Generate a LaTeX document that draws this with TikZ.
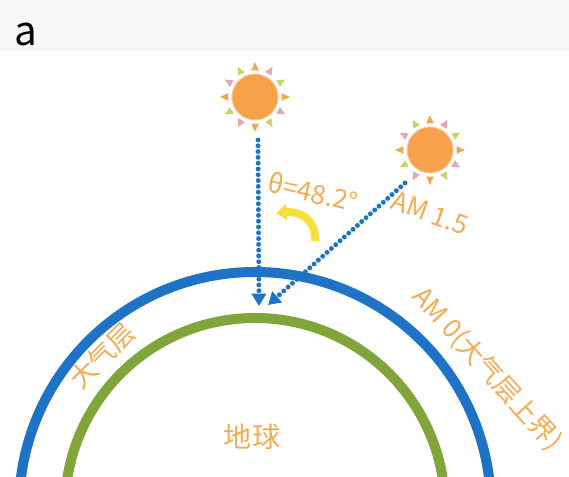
\documentclass[tikz,border=0pt]{standalone}
\usepackage{fontspec}
\usepackage{tikz}
\usetikzlibrary{arrows.meta}
\newfontfamily\cjk{Noto Sans CJK SC}

\definecolor{atmoblue}{HTML}{1E73C6}
\definecolor{earthgreen}{HTML}{7FA53B}
\definecolor{sunorange}{HTML}{F7A24A}
\definecolor{textorange}{HTML}{F3AC55}
\definecolor{hookyellow}{HTML}{F6E03C}
\definecolor{rayA}{HTML}{F2A84E}
\definecolor{rayB}{HTML}{C9D36A}
\definecolor{rayC}{HTML}{E5A7B0}

\tikzset{
	sun/.style={circle, fill=sunorange, draw=sunorange!60!white, line width=0.6pt, minimum size=0.92cm, inner sep=0pt},
	beam/.style={atmoblue, line width=2.8pt, line cap=round, dash pattern=on 0pt off 3.3pt,
		-{Triangle[length=7pt, width=8pt]}},
	amtext/.style={text=textorange, font=\cjk\fontsize{15}{17}\selectfont, inner sep=0pt},
}

\begin{document}
\begin{tikzpicture}[x=0.02cm, y=0.02cm]
	\useasboundingbox (0,0) rectangle (569,477);
	\clip (0,0) rectangle (569,477);
	\fill[gray!6] (0,426) rectangle (569,477);
	\node[font=\cjk\fontsize{23}{26}\selectfont, inner sep=0pt, anchor=base west] (panel) at (14,431) {a};

	% atmosphere and earth
	\draw[atmoblue, line width=5.7pt] (255,-31) circle [radius=236];
	\draw[earthgreen, line width=5.7pt] (255,-31) circle [radius=190];

	% the two suns
	\node[sun] (sunhigh) at (255,380) {};
	\node[sun] (sunlow) at (430,327) {};
	\foreach \s in {sunhigh,sunlow}{
		\foreach \a/\c in {0/rayA,30/rayB,60/rayC,90/rayA,120/rayB,150/rayC,
			180/rayA,210/rayB,240/rayC,270/rayA,300/rayB,330/rayC}{
			\fill[\c, shift={(\s)}] (\a-8:27) -- (\a:35) -- (\a+8:27) -- cycle;
		}
	}

	% sunlight
	\coordinate (zenith) at (258,337);
	\coordinate (slant) at (405,294);
	\coordinate (hitv) at (259,171);
	\coordinate (hitd) at (268,172);
	\draw[beam] (zenith) -- (hitv);
	\draw[beam] (slant) -- (hitd);

	\draw[hookyellow, line width=4.5pt, -{Triangle[length=6pt, width=9pt]}]
		(315,236) .. controls (316,258) and (300,266) .. (276,264);

	\node[amtext, rotate=-13] (angle) at (313,285) {θ=48.2°};
	\node[amtext, rotate=-20] (amhigh) at (430,264) {AM 1.5};
	\node[amtext, rotate=-48] (amzero) at (487,108) {AM 0(大气层上界)};
	\node[amtext, rotate=45] (atmo) at (102,121) {大气层};
	\node[amtext, font=\cjk\fontsize{16}{18}\selectfont] (earth) at (252,40) {地球};
\end{tikzpicture}
\end{document}
